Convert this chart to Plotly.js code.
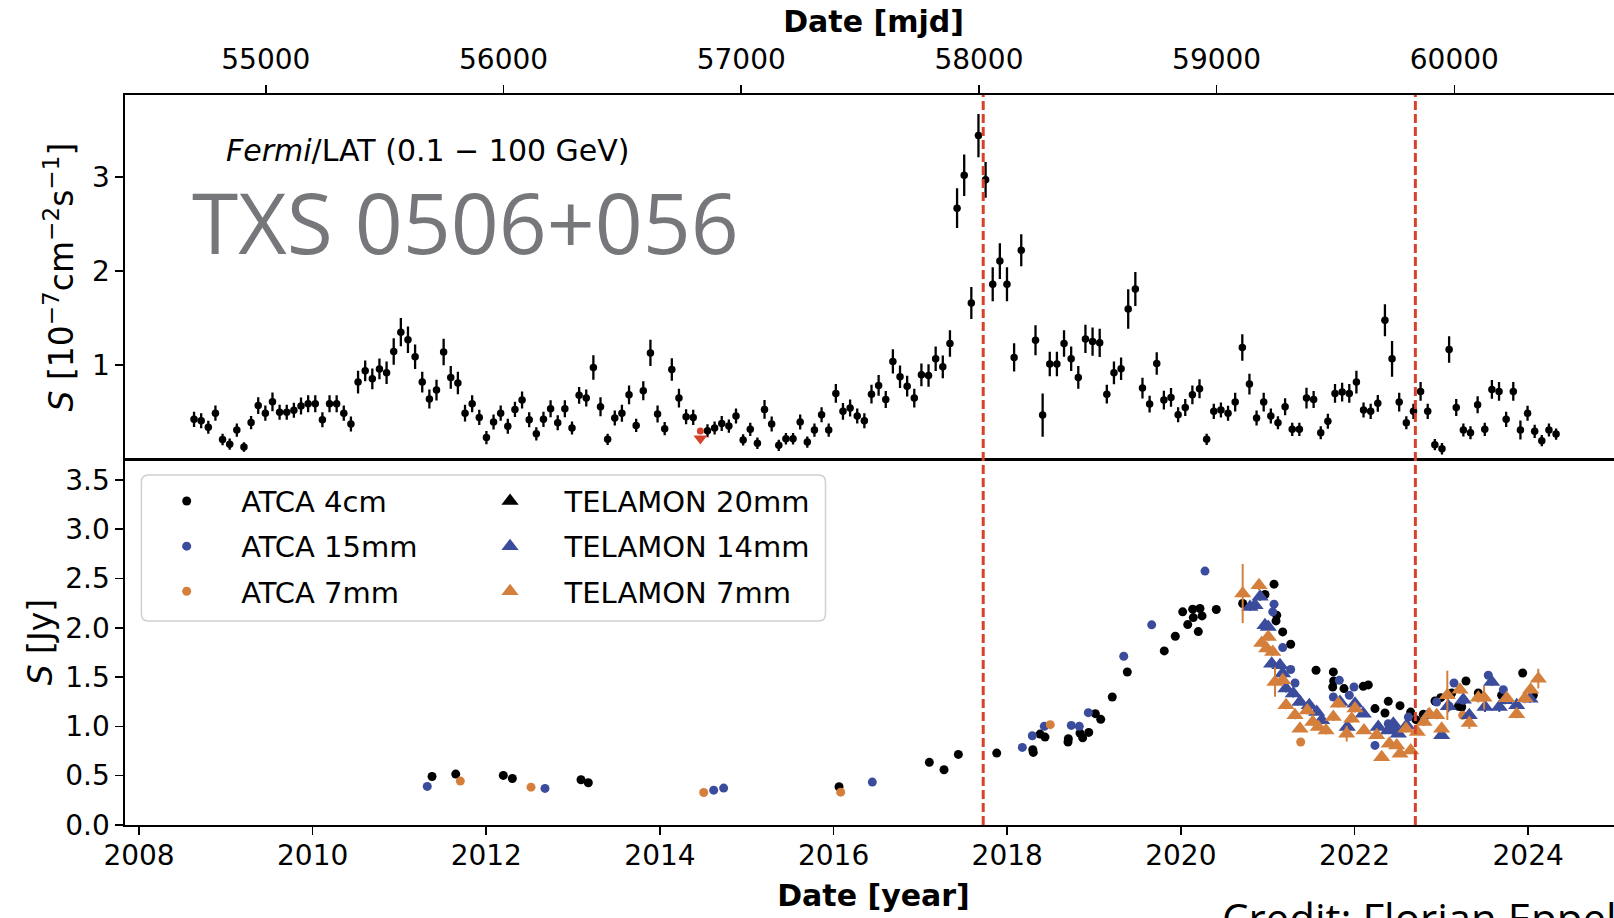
<!DOCTYPE html>
<html><head><meta charset="utf-8">
<script src="https://cdn.plot.ly/plotly-3.0.1.min.js"></script>
<style>html,body{margin:0;padding:0;overflow:hidden;background:#fff;width:1614px;height:918px}#chart{position:absolute;left:0;top:0;width:1640px;height:940px}</style>
</head><body><div id="chart"></div><script>
// ---------- Fermi/LAT monthly light curve (MJD, 1e-7 cm^-2 s^-1) ----------
const fermi_mjd = [
54698,54728,54758,54788,54818,54848,54878,54908,54938,54968,
54998,55028,55058,55088,55118,55148,55178,55208,55238,55268,
55298,55328,55358,55388,55418,55448,55478,55508,55538,55568,
55598,55628,55658,55688,55718,55748,55778,55808,55838,55868,
55898,55928,55958,55988,56018,56048,56078,56108,56138,
56168,56198,56228,56258,56288,56318,56348,56378,56408,56438,
56468,56498,56528,56558,56588,56618,56648,56678,56708,56738,
56768,56798,
56858,56888,56918,56948,56978,57008,57038,57068,57098,57128,
57158,57188,57218,57248,57278,57308,57338,57368,57398,57428,
57458,57488,57518,57548,57578,57608,57638,57668,57698,57728,
57758,57788,57818,57848,57878,57908,57938,57968,57998,58028,
58058,58088,58118,58148,58178,
58238,58268,58298,58328,58358,58388,58418,58448,58478,58508,
58538,58568,58598,58628,58658,58688,58718,58748,58778,58808,
58838,58868,58898,58928,58958,58988,59018,59048,59078,59108,
59138,59168,59198,59228,59258,59288,59318,59348,59378,59408,
59438,59468,59498,
59528,59558,59588,59618,59648,59678,59708,59738,59768,59798,
59828,59858,59888,59918,59948,59978,60008,60038,60068,60098,
60128,60158,60188,60218,60248,60278,60308,60338,60368,60398,
60428];
const fermi_flux = [
0.424,0.41,0.34,0.49,0.21,0.16,0.31,0.13,0.39,0.57,
0.49,0.61,0.50,0.50,0.52,0.565,0.59,0.59,0.42,0.59,
0.59,0.49,0.375,0.82,0.94,0.855,0.96,0.92,1.145,1.35,
1.27,1.09,0.82,0.64,0.735,1.14,0.87,0.81,0.49,0.59,
0.445,0.23,0.395,0.49,0.35,0.53,0.63,0.42,0.27,
0.424,0.537,0.388,0.537,0.332,0.679,0.65,0.975,0.558,0.212,
0.438,0.488,0.685,0.36,0.728,1.13,0.48,0.325,0.954,0.65,
0.452,0.445,
0.303,0.332,0.381,0.353,0.459,0.205,0.318,0.17,0.53,0.374,
0.148,0.218,0.218,0.396,0.183,0.31,0.473,0.31,0.70,0.509,
0.544,0.459,0.41,0.692,0.785,0.636,1.04,0.876,0.777,0.65,
0.897,0.89,1.067,0.982,1.23,2.668,3.018,1.661,3.439,2.969,
1.859,2.106,1.859,1.082,2.22,
1.265,0.47,1.011,1.011,1.23,1.067,0.87,1.279,1.251,1.237,
0.692,0.918,0.961,1.597,1.809,0.756,0.586,1.018,0.629,0.657,
0.473,0.551,0.685,0.749,0.212,0.509,0.523,0.488,0.608,1.188,
0.799,0.438,0.608,0.459,0.388,0.558,0.318,0.318,0.65,0.636,
0.282,0.403,0.70,
0.714,0.70,0.82,0.523,0.509,0.594,1.477,1.067,0.608,0.388,
0.509,0.721,0.509,0.155,0.112,1.166,0.551,0.311,0.282,0.579,
0.318,0.742,0.721,0.424,0.721,0.311,0.488,0.297,0.197,0.311,
0.268];
const fermi_err = [
0.08,0.08,0.07,0.08,0.06,0.06,0.07,0.05,0.07,0.09,
0.08,0.10,0.08,0.08,0.08,0.09,0.09,0.09,0.08,0.09,
0.09,0.08,0.08,0.12,0.11,0.11,0.11,0.12,0.14,0.15,
0.14,0.13,0.11,0.10,0.11,0.14,0.12,0.12,0.09,0.09,
0.08,0.07,0.08,0.08,0.08,0.08,0.09,0.08,0.07,
0.08,0.09,0.08,0.09,0.07,0.09,0.09,0.13,0.10,0.06,
0.08,0.09,0.10,0.07,0.10,0.14,0.09,0.07,0.12,0.10,
0.08,0.08,
0.07,0.07,0.08,0.07,0.08,0.06,0.07,0.06,0.10,0.08,
0.06,0.06,0.06,0.08,0.06,0.07,0.08,0.07,0.10,0.09,
0.09,0.08,0.08,0.10,0.11,0.09,0.13,0.12,0.11,0.10,
0.12,0.12,0.13,0.12,0.14,0.21,0.22,0.17,0.23,0.19,
0.18,0.19,0.18,0.15,0.17,
0.16,0.23,0.13,0.13,0.14,0.13,0.12,0.15,0.15,0.15,
0.10,0.12,0.12,0.21,0.18,0.11,0.09,0.12,0.10,0.10,
0.08,0.09,0.10,0.10,0.06,0.08,0.08,0.08,0.10,0.14,
0.11,0.08,0.10,0.08,0.07,0.09,0.07,0.07,0.11,0.09,
0.07,0.08,0.10,
0.10,0.10,0.12,0.08,0.08,0.09,0.17,0.19,0.10,0.07,
0.08,0.10,0.08,0.06,0.06,0.14,0.09,0.07,0.07,0.09,
0.07,0.10,0.10,0.08,0.10,0.10,0.08,0.07,0.06,0.07,
0.06];
// upper limit bin
const ul_mjd = [56828];
const ul_flux = [0.30];
const ul_arrow = [0.22];

// ---------- Radio light curves (decimal year, Jy) ----------
const atca4_t = [2011.375,2011.648,2012.196,2012.30,2013.091,2013.175,2016.063,2017.103,2017.272,2017.437,
2017.879,2018.294,2018.30,2018.378,2018.435,2018.704,2018.70,2018.838,2018.869,2018.939,
2019.015,2019.077,2019.21,2019.383,2019.809,2019.936,2020.021,2020.079,2020.136,2020.143,
2020.201,2020.22,2020.244,2020.408,2020.712,2020.969,2021.073,2021.104,2021.096,2021.173,
2021.265,2021.557,2021.756,2021.76,2021.749,2021.879,2022.101,2022.159,2022.236,2022.351,
2022.389,2022.524,2022.647,2022.708,2022.792,2022.927,2022.993,2023.12,2023.196,2023.235,
2023.284,2023.426,2023.695,2023.937,2024.059];
const atca4_s = [0.492,0.516,0.503,0.472,0.459,0.428,0.388,0.635,0.56,0.716,
0.729,0.763,0.736,0.922,0.891,0.875,0.841,0.932,0.885,0.939,
1.129,1.071,1.298,1.551,1.765,1.914,2.161,2.032,2.188,2.103,
1.961,2.195,2.12,2.185,2.246,2.337,2.442,2.127,2.069,1.958,
1.833,1.569,1.552,1.46,1.399,1.383,1.406,1.42,1.18,1.135,
1.254,1.21,1.145,1.068,1.122,1.257,1.291,1.338,1.203,1.196,
1.46,1.338,1.315,1.541,1.315];

const atca15_t = [2011.32,2012.676,2014.619,2014.734,2016.446,2018.174,2018.289,2018.427,2018.738,2018.83,
2018.934,2019.342,2019.664,2020.278,2021.073,2021.058,2021.173,2021.265,2021.315,2021.756,
2021.825,2021.94,2021.994,2022.236,2022.389,2022.455,2022.62,2022.947,2023.092,2023.146,
2023.253,2023.541,2023.714];
const atca15_s = [0.391,0.371,0.353,0.374,0.435,0.787,0.905,1.0,1.01,1.0,
1.139,1.711,2.029,2.574,2.239,2.161,1.799,1.576,1.44,1.298,
1.467,1.315,1.399,0.807,1.027,0.977,1.094,1.247,1.203,1.44,
1.264,1.518,1.372];

const atca7_t = [2011.701,2012.515,2014.504,2016.082,2018.496,2021.38,2023.246];
const atca7_s = [0.445,0.384,0.33,0.333,1.017,0.841,1.112];

// TELAMON 20mm: listed in the legend, no visible points in this frame
const tel20_t = [];
const tel20_s = [];

const tel14_t = [2020.796,2020.854,2020.912,2020.969,2021.007,2021.046,2021.142,2021.173,2021.211,2021.295,
2021.372,2021.479,2021.565,2021.622,2021.833,2021.917,2022.006,2022.101,2022.274,2022.389,
2022.447,2022.505,2022.601,2022.85,2023.004,2023.08,2023.253,2023.322,2023.503,2023.58,
2023.668,2023.733,2023.868,2024.021];
const tel14_s = [2.211,2.228,2.313,2.025,2.008,1.636,1.62,1.535,1.383,1.332,
1.247,1.214,1.145,1.061,1.247,0.993,1.23,1.129,0.993,0.959,
1.027,0.926,1.01,1.112,0.909,1.203,1.27,1.112,1.196,1.45,
1.196,1.264,1.213,1.28];
const tel14_e = [0.04,0.05,0.04,0.04,0.04,0.04,0.04,0.04,0.04,0.04,
0.03,0.03,0.03,0.03,0.04,0.03,0.04,0.03,0.03,0.03,
0.03,0.03,0.03,0.04,0.03,0.06,0.04,0.03,0.05,0.04,
0.05,0.04,0.04,0.04];

const tel7_t = [2020.712,2020.9,2020.931,2020.989,2021.007,2021.058,2021.084,2021.173,2021.211,2021.315,
2021.372,2021.456,2021.519,2021.583,2021.672,2021.756,2021.813,2021.91,2021.968,2022.006,
2022.109,2022.256,2022.313,2022.401,2022.486,2022.524,2022.593,2022.647,2022.723,2022.801,
2022.862,2022.947,2023.004,2023.069,2023.215,2023.322,2023.426,2023.492,2023.753,2023.868,
2023.964,2024.029,2024.117];
const tel7_s = [2.347,2.431,1.846,1.789,1.907,1.755,1.45,1.467,1.213,1.112,
0.977,1.162,1.044,0.993,0.959,1.094,1.23,0.926,1.078,1.18,
0.959,0.909,0.688,0.824,0.807,0.723,0.977,0.756,0.942,1.044,
1.122,1.112,0.977,1.315,1.372,1.034,1.291,1.291,1.284,1.122,
1.284,1.372,1.484];
const tel7_e = [0.30,0.05,0.04,0.04,0.04,0.04,0.15,0.04,0.04,0.04,
0.03,0.04,0.04,0.03,0.04,0.04,0.04,0.08,0.04,0.04,
0.03,0.03,0.03,0.03,0.03,0.03,0.04,0.03,0.03,0.04,
0.04,0.04,0.03,0.25,0.04,0.06,0.05,0.12,0.04,0.04,
0.05,0.04,0.10];

// neutrino alert epochs (MJD)
const event_mjd = [58018, 59836];

// axis tick labels
const year_ticks = [2008,2010,2012,2014,2016,2018,2020,2022,2024];
const mjd_ticks = [55000,56000,57000,58000,59000,60000];
const fermi_ticks = [1,2,3];

// ---------- styling ----------
const FONT = 'DejaVu Sans';
const BLUE = '#3c4c9c', ORANGE = '#d4803c', RED = '#d8412c';
const yearRange = [2007.8386, 2025.081];
const toMJD = y => 51544.5 + (y - 2000) * 365.25;
const mjdRange = yearRange.map(toMJD);
const split = 0.501;

const traces = [];
traces.push({type:'scatter', mode:'markers', x:fermi_mjd, y:fermi_flux, xaxis:'x2', yaxis:'y2',
  marker:{color:'#000', size:7.5}, showlegend:false,
  error_y:{type:'data', array:fermi_err, visible:true, color:'#000', thickness:2.3, width:0}});
traces.push({type:'scatter', mode:'markers', x:ul_mjd, y:ul_flux, xaxis:'x2', yaxis:'y2',
  marker:{color:RED, size:7}, showlegend:false});
traces.push({type:'scatter', mode:'markers', x:ul_mjd, y:ul_arrow, xaxis:'x2', yaxis:'y2',
  marker:{color:RED, size:12, symbol:'triangle-down'}, showlegend:false});

function radio(name, t, s, e, color, symbol, size, legend, grp){
  const tr = {type:'scatter', mode:'markers', name:name,
    x:(t.length ? t : [null]), y:(s.length ? s : [null]), xaxis:'x', yaxis:'y',
    legend:legend, legendgroup:grp, showlegend:true,
    marker:{color:color, size:size, symbol:symbol, line:{width:0}}};
  if (e) tr.error_y = {type:'data', array:e, visible:true, color:color, thickness:2, width:0};
  return tr;
}
traces.push(radio('ATCA 4cm', atca4_t, atca4_s, null, '#000', 'circle', 9, 'legend', 'a1'));
traces.push(radio('ATCA 15mm', atca15_t, atca15_s, null, BLUE, 'circle', 9, 'legend', 'a2'));
traces.push(radio('ATCA 7mm', atca7_t, atca7_s, null, ORANGE, 'circle', 9, 'legend', 'a3'));
traces.push(radio('TELAMON 20mm', tel20_t, tel20_s, null, '#000', 'triangle-up', 15, 'legend2', 'b1'));
traces.push(radio('TELAMON 14mm', tel14_t, tel14_s, tel14_e, BLUE, 'triangle-up', 15, 'legend2', 'b2'));
traces.push(radio('TELAMON 7mm', tel7_t, tel7_s, tel7_e, ORANGE, 'triangle-up', 15, 'legend2', 'b3'));

const axisCommon = {showline:true, linecolor:'#000', linewidth:1.6, mirror:true, ticks:'outside',
  ticklen:8, tickwidth:1.6, tickcolor:'#000', showgrid:false, zeroline:false,
  tickfont:{family:FONT, size:28, color:'#000'}};

// legend frame (rounded) in paper coordinates
const bx0 = 0.01096, bx1 = 0.46794, byt = 0.47945, byb = 0.27945, rx = 7/1497, ry = 7/730;
const framePath = `M ${bx0+rx},${byt} L ${bx1-rx},${byt} Q ${bx1},${byt} ${bx1},${byt-ry} L ${bx1},${byb+ry} Q ${bx1},${byb} ${bx1-rx},${byb} L ${bx0+rx},${byb} Q ${bx0},${byb} ${bx0},${byb+ry} L ${bx0},${byt-ry} Q ${bx0},${byt} ${bx0+rx},${byt} Z`;

const shapes = event_mjd.map(m => ({type:'line', xref:'x2', yref:'paper', x0:m, x1:m, y0:0, y1:1,
  line:{color:RED, width:3, dash:'9px,4px'}, layer:'above'}));
shapes.push({type:'path', xref:'paper', yref:'paper', path:framePath,
  fillcolor:'rgba(255,255,255,0.8)', line:{color:'#d0d0d0', width:1.5}, layer:'below'});

const legendCommon = {bgcolor:'rgba(0,0,0,0)', borderwidth:0, font:{family:FONT, size:29, color:'#000'},
  traceorder:'grouped', tracegroupgap:4.4, itemwidth:99, xanchor:'left', yanchor:'top', orientation:'v'};

const layout = {
  width:1640, height:940,
  margin:{l:125, r:18, t:95, b:115},
  paper_bgcolor:'#fff', plot_bgcolor:'rgba(0,0,0,0)',
  font:{family:FONT, color:'#000'},
  xaxis: Object.assign({}, axisCommon, {domain:[0,1], anchor:'y', side:'bottom', range:yearRange,
    tickmode:'array', tickvals:year_ticks, ticklabelstandoff:-3,
    title:{text:'<b>Date [year]</b>', font:{family:FONT, size:30}, standoff:14}}),
  yaxis: Object.assign({}, axisCommon, {domain:[0, split], anchor:'x', range:[0, 3.708],
    tick0:0, dtick:0.5, tickformat:'.1f',
    title:{text:'<i>S</i> [Jy]', font:{family:FONT, size:33}, standoff:3}}),
  xaxis2: Object.assign({}, axisCommon, {domain:[0,1], anchor:'y2', side:'top', range:mjdRange,
    tickmode:'array', tickvals:mjd_ticks, tickformat:'d', ticklabelstandoff:5,
    title:{text:'<b>Date [mjd]</b>', font:{family:FONT, size:30}, standoff:2}}),
  yaxis2: Object.assign({}, axisCommon, {domain:[split, 1], anchor:'x2', range:[0, 3.87],
    tickmode:'array', tickvals:fermi_ticks,
    title:{text:'<i>S</i> [10<sup>\u22127</sup>cm<sup>\u22122</sup>s<sup>\u22121</sup>]', font:{family:FONT, size:33}, standoff:8}}),
  legend: Object.assign({}, legendCommon, {x:0.0048, y:0.4785}),
  legend2: Object.assign({}, legendCommon, {x:0.2208, y:0.4785}),
  shapes: shapes,
  annotations:[
    {xref:'paper', yref:'paper', x:0.0661, y:0.9238, xanchor:'left', yanchor:'middle', showarrow:false,
     text:'<i>Fermi</i>/LAT (0.1 \u2212 100 GeV)', font:{family:FONT, size:30, color:'#000'}},
    {xref:'paper', yref:'paper', x:0.0434, y:0.8267, xanchor:'left', yanchor:'middle', showarrow:false,
     text:'TXS 0506+056', font:{family:'Open Sans', size:84, color:'#76777a'}},
    {xref:'paper', yref:'paper', x:0.7314, y:-0.0846, xanchor:'left', yanchor:'top', showarrow:false,
     text:'Credit: Florian Eppel', font:{family:'Open Sans', size:42, color:'#000'}}
  ]
};

Plotly.newPlot('chart', traces, layout, {displayModeBar:false, staticPlot:true});
</script></body></html>
